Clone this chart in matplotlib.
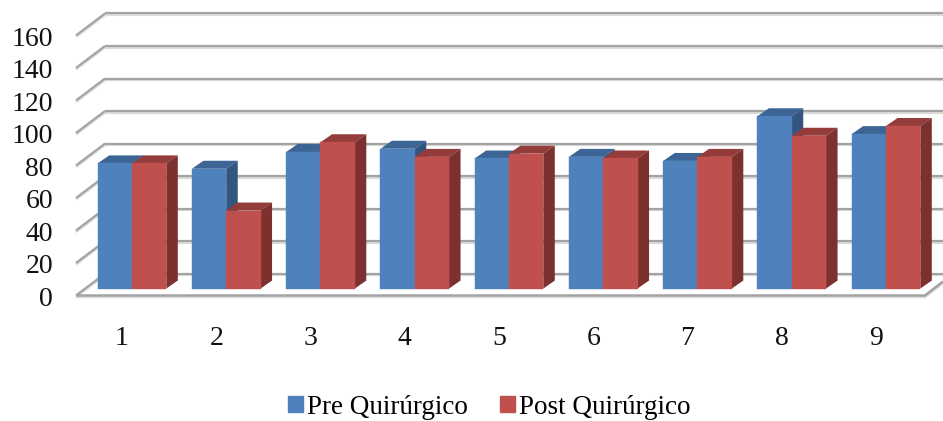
import matplotlib.pyplot as plt
from matplotlib.patches import Patch

plt.rcParams['font.family'] = ['Liberation Serif', 'DejaVu Serif']

categories = ['1', '2', '3', '4', '5', '6', '7', '8', '9']
pre = [77, 73.7, 84, 86, 80, 81, 78.5, 106, 95]
post = [77, 48, 90, 81, 83, 80, 81, 94, 100]
y_ticks = [0, 20, 40, 60, 80, 100, 120, 140, 160]
names = ['Pre Quirúrgico', 'Post Quirúrgico']

fig = plt.figure(figsize=(9.43, 4.21), dpi=100)
ax = fig.add_axes([0, 0, 1, 1])
# axes fill the figure, 94.25 px per category, 1.625 px per unit
ax.set_xlim(1 - 132 / 94.25, 1 + 811 / 94.25)
ax.set_ylim(-81.5, 177.5)
ax.axis('off')

width = 0.364
depth_x = 0.122
depth_y = 4.9

# oblique floor and wall offsets
left_front = 1 - 56 / 94.25
left_back = 1 - 27 / 94.25
right_front = 1 + 793 / 94.25
right_back = 1 + 811 / 94.25
floor_front = -4.3
floor_back = 9.2
grey = '#a3a3a3'
shadow = '#dcdcdc'

for t in y_ticks:
    for off, col, lw, z in [(-1.0, shadow, 1.6, 1), (0, grey, 1.6, 2)]:
        ax.plot([left_front, left_back], [t + floor_front + off, t + floor_back + off],
                color=col, lw=lw, zorder=z, solid_capstyle='butt')
        ax.plot([left_back, right_back], [t + floor_back + off, t + floor_back + off],
                color=col, lw=lw, zorder=z, solid_capstyle='butt')
    ax.text(left_front - 23 / 94.25, t + floor_front - 0.5, str(t), ha='right', va='center_baseline',
            fontsize=20, color='#111111')

# floor front and right edges
for off, col, z in [(-1.0, shadow, 1), (0, grey, 2)]:
    ax.plot([left_front, right_front, right_back],
            [floor_front + off, floor_front + off, floor_front + 8.6 + off],
            color=col, lw=1.8, zorder=z, solid_capstyle='butt')

colors = [('#4f81bd', '#3c6494', '#33557f'), ('#c0504d', '#933c39', '#7c312f')]


def draw_bar(x0, h, front, top, side, z):
    ax.fill([x0, x0 + depth_x, x0 + width + depth_x, x0 + width],
            [h, h + depth_y, h + depth_y, h], color=top, lw=0, zorder=z)
    ax.fill([x0 + width, x0 + width + depth_x, x0 + width + depth_x, x0 + width],
            [0, depth_y, h + depth_y, h], color=side, lw=0, zorder=z)
    ax.bar(x0, h, width=width, align='edge', color=front, edgecolor=front, lw=0.3, zorder=z + 0.2)


for i, cat in enumerate(categories):
    c = i + 1
    draw_bar(c - width, pre[i], *colors[0], 5 + i)
    draw_bar(c, post[i], *colors[1], 5.5 + i)
    ax.text(c - 10 / 94.25, -29, cat, ha='center', va='center_baseline', fontsize=20, color='#111111')

handles = [Patch(color=colors[0][0], label=names[0]), Patch(color=colors[1][0], label=names[1])]
ax.legend(handles=handles, loc='center', bbox_to_anchor=(489 / 943, 1 - 407 / 421), ncol=2,
          frameon=False, fontsize=19.5, handlelength=0.55, handleheight=0.55,
          handletextpad=0.15, columnspacing=1.18, borderpad=0)

fig.savefig('out.png', dpi=100)
